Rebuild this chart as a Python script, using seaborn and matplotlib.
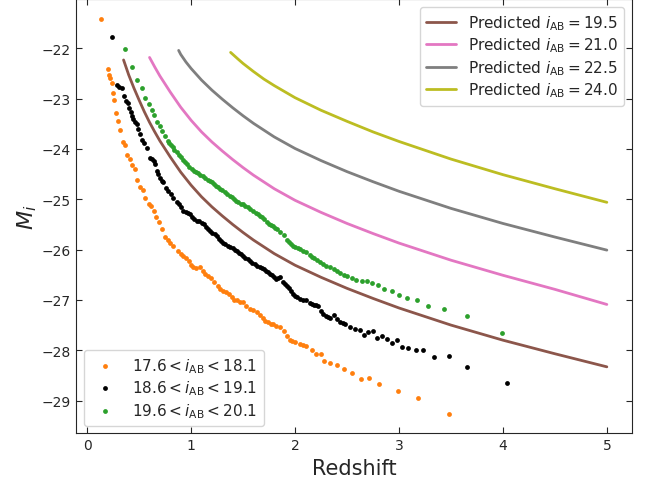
import matplotlib
matplotlib.use("Agg")
import matplotlib.pyplot as plt
import seaborn as sns

# Scatter bins: redshift and absolute magnitude M_i
orange_z = [0.135, 0.20, 0.21, 0.224, 0.237, 0.247, 0.26, 0.276, 0.295, 0.317, 0.34, 0.362, 0.385, 0.413,
            0.435, 0.46, 0.483, 0.51, 0.535, 0.558, 0.59, 0.61, 0.64, 0.66, 0.69, 0.72, 0.75, 0.78, 0.80,
            0.83, 0.87, 0.90, 0.926, 0.95, 0.975, 1.00, 1.02, 1.05, 1.087, 1.11, 1.135, 1.16, 1.19, 1.22,
            1.26, 1.28, 1.31, 1.34, 1.365, 1.39, 1.41, 1.44, 1.47, 1.50, 1.53, 1.57, 1.60, 1.63, 1.66,
            1.69, 1.71, 1.74, 1.77, 1.79, 1.82, 1.86, 1.89, 1.92, 1.95, 1.97, 2.00, 2.05, 2.08, 2.11,
            2.16, 2.20, 2.25, 2.28, 2.34, 2.40, 2.47, 2.545, 2.63, 2.71, 2.81, 2.99, 3.18, 3.48]
orange_m = [-21.42, -22.40, -22.52, -22.58, -22.69, -22.89, -23.03, -23.28, -23.45, -23.63, -23.87, -23.92,
            -24.12, -24.20, -24.32, -24.40, -24.61, -24.76, -24.82, -24.98, -25.10, -25.14, -25.23, -25.35,
            -25.45, -25.59, -25.74, -25.80, -25.86, -25.92, -26.02, -26.08, -26.12, -26.17, -26.22, -26.30,
            -26.35, -26.36, -26.35, -26.42, -26.48, -26.52, -26.57, -26.64, -26.72, -26.78, -26.83, -26.85,
            -26.88, -26.95, -27.01, -27.01, -27.04, -27.05, -27.12, -27.18, -27.20, -27.24, -27.30, -27.36,
            -27.41, -27.44, -27.47, -27.48, -27.52, -27.54, -27.62, -27.72, -27.80, -27.81, -27.84, -27.87,
            -27.90, -27.91, -27.99, -28.08, -28.08, -28.22, -28.25, -28.30, -28.38, -28.45, -28.57, -28.56,
            -28.67, -28.82, -28.94, -29.26]

black_z = [0.234, 0.288, 0.31, 0.333, 0.35, 0.37, 0.39, 0.40, 0.42, 0.43, 0.445, 0.46, 0.478, 0.487, 0.51,
           0.53, 0.55, 0.577, 0.606, 0.62, 0.64, 0.654, 0.67, 0.685, 0.70, 0.72, 0.73, 0.757, 0.78, 0.81,
           0.83, 0.86, 0.88, 0.90, 0.926, 0.95, 0.97, 0.99, 1.01, 1.03, 1.055, 1.08, 1.10, 1.12, 1.14, 1.16,
           1.18, 1.20, 1.23, 1.25, 1.27, 1.29, 1.31, 1.33, 1.355, 1.375, 1.40, 1.42, 1.44, 1.46, 1.48, 1.50,
           1.52, 1.545, 1.57, 1.59, 1.61, 1.63, 1.66, 1.68, 1.70, 1.72, 1.74, 1.76, 1.78, 1.80, 1.82, 1.84,
           1.86, 1.88, 1.90, 1.92, 1.94, 1.96, 1.98, 2.00, 2.02, 2.05, 2.08, 2.11, 2.14, 2.16, 2.18, 2.20,
           2.22, 2.25, 2.27, 2.30, 2.32, 2.34, 2.37, 2.40, 2.43, 2.46, 2.48, 2.53, 2.58, 2.625, 2.66, 2.70,
           2.75, 2.79, 2.84, 2.88, 2.93, 2.98, 3.03, 3.09, 3.16, 3.23, 3.34, 3.48, 3.65, 4.04]
black_m = [-21.77, -22.72, -22.76, -22.79, -22.95, -23.05, -23.08, -23.18, -23.26, -23.34, -23.40, -23.46,
           -23.51, -23.61, -23.71, -23.83, -23.89, -23.99, -24.17, -24.20, -24.24, -24.30, -24.43, -24.50,
           -24.57, -24.63, -24.66, -24.78, -24.83, -24.90, -24.98, -25.05, -25.10, -25.15, -25.23, -25.25,
           -25.28, -25.29, -25.36, -25.40, -25.43, -25.44, -25.48, -25.49, -25.55, -25.60, -25.63, -25.66,
           -25.69, -25.72, -25.78, -25.82, -25.86, -25.88, -25.92, -25.95, -25.97, -26.00, -26.02, -26.06,
           -26.09, -26.12, -26.16, -26.19, -26.22, -26.26, -26.29, -26.32, -26.35, -26.36, -26.38, -26.42,
           -26.45, -26.48, -26.51, -26.55, -26.58, -26.57, -26.55, -26.64, -26.68, -26.72, -26.76, -26.82,
           -26.88, -26.92, -26.95, -26.98, -27.01, -27.01, -27.06, -27.08, -27.10, -27.11, -27.13, -27.22,
           -27.28, -27.32, -27.34, -27.36, -27.30, -27.38, -27.43, -27.46, -27.48, -27.53, -27.58, -27.59,
           -27.69, -27.64, -27.62, -27.76, -27.72, -27.77, -27.85, -27.80, -27.93, -27.96, -27.99, -28.00,
           -28.14, -28.12, -28.34, -28.65]

green_z = [0.362, 0.43, 0.48, 0.53, 0.56, 0.59, 0.62, 0.647, 0.673, 0.70, 0.724, 0.75, 0.775, 0.79, 0.81,
           0.825, 0.84, 0.86, 0.88, 0.90, 0.92, 0.94, 0.96, 0.98, 1.007, 1.03, 1.05, 1.07, 1.09, 1.11,
           1.135, 1.16, 1.18, 1.20, 1.22, 1.24, 1.26, 1.28, 1.30, 1.33, 1.35, 1.37, 1.39, 1.41, 1.435,
           1.455, 1.48, 1.50, 1.52, 1.55, 1.57, 1.60, 1.62, 1.64, 1.66, 1.68, 1.70, 1.73, 1.75, 1.77, 1.79,
           1.81, 1.83, 1.86, 1.89, 1.92, 1.94, 1.96, 1.98, 2.00, 2.03, 2.05, 2.08, 2.11, 2.14, 2.16, 2.18,
           2.21, 2.24, 2.27, 2.30, 2.34, 2.37, 2.40, 2.43, 2.47, 2.50, 2.545, 2.59, 2.64, 2.69, 2.74,
           2.795, 2.86, 2.93, 3.00, 3.08, 3.17, 3.28, 3.43, 3.65, 3.99]
green_m = [-22.02, -22.38, -22.62, -22.79, -22.98, -23.11, -23.22, -23.32, -23.46, -23.55, -23.65, -23.74,
           -23.84, -23.88, -23.92, -23.97, -24.02, -24.06, -24.11, -24.16, -24.22, -24.26, -24.30, -24.35,
           -24.40, -24.43, -24.46, -24.48, -24.51, -24.54, -24.57, -24.61, -24.63, -24.66, -24.70, -24.73,
           -24.76, -24.80, -24.82, -24.85, -24.89, -24.93, -24.96, -25.00, -25.03, -25.06, -25.09, -25.10,
           -25.13, -25.16, -25.19, -25.23, -25.27, -25.30, -25.33, -25.36, -25.39, -25.45, -25.49, -25.52,
           -25.54, -25.57, -25.60, -25.64, -25.70, -25.80, -25.84, -25.88, -25.92, -25.95, -25.97, -25.99,
           -26.02, -26.05, -26.10, -26.14, -26.17, -26.20, -26.25, -26.28, -26.32, -26.35, -26.38, -26.42,
           -26.46, -26.50, -26.52, -26.56, -26.60, -26.63, -26.63, -26.66, -26.71, -26.78, -26.82, -26.90,
           -26.97, -27.00, -27.13, -27.19, -27.32, -27.65]

# Predicted tracks for fixed apparent magnitude
brown_z = [0.35, 0.375, 0.40, 0.45, 0.50, 0.55, 0.60, 0.65, 0.70, 0.75, 0.80, 0.90, 1.00, 1.10, 1.20, 1.30,
           1.40, 1.50, 1.60, 1.80, 2.00, 2.25, 2.50, 2.75, 3.00, 3.50, 4.00, 4.50, 5.00]
brown_m = [-22.23, -22.38, -22.53, -22.79, -23.03, -23.26, -23.47, -23.66, -23.84, -24.00, -24.16, -24.46,
           -24.72, -24.95, -25.15, -25.33, -25.50, -25.66, -25.81, -26.08, -26.31, -26.55, -26.77, -26.97,
           -27.16, -27.50, -27.80, -28.07, -28.33]
pink_z = [0.60, 0.65, 0.70, 0.75, 0.80, 0.90, 1.00, 1.10, 1.20, 1.30, 1.40, 1.50, 1.60, 1.80, 2.00, 2.25,
          2.50, 2.75, 3.00, 3.50, 4.00, 4.50, 5.00]
pink_m = [-22.18, -22.37, -22.55, -22.71, -22.87, -23.17, -23.43, -23.66, -23.86, -24.04, -24.21, -24.37,
          -24.52, -24.79, -25.02, -25.26, -25.48, -25.68, -25.87, -26.21, -26.51, -26.79, -27.09]
gray_z = [0.88, 0.90, 0.95, 1.00, 1.10, 1.20, 1.30, 1.40, 1.50, 1.60, 1.80, 2.00, 2.25, 2.50, 2.75, 3.00,
          3.50, 4.00, 4.50, 5.00]
gray_m = [-22.04, -22.12, -22.27, -22.40, -22.63, -22.83, -23.01, -23.18, -23.34, -23.49, -23.76, -23.99,
          -24.23, -24.45, -24.65, -24.84, -25.18, -25.48, -25.75, -26.01]
olive_z = [1.38, 1.45, 1.50, 1.60, 1.70, 1.80, 2.00, 2.25, 2.50, 2.75, 3.00, 3.50, 4.00, 4.50, 5.00]
olive_m = [-22.08, -22.21, -22.30, -22.46, -22.61, -22.74, -22.98, -23.23, -23.45, -23.66, -23.85, -24.20,
           -24.51, -24.79, -25.06]

bin_labels = [r'$17.6 < i_{\rm AB} < 18.1$', r'$18.6 < i_{\rm AB} < 19.1$', r'$19.6 < i_{\rm AB} < 20.1$']
pred_labels = [r'Predicted $i_{\rm AB} = 19.5$', r'Predicted $i_{\rm AB} = 21.0$',
               r'Predicted $i_{\rm AB} = 22.5$', r'Predicted $i_{\rm AB} = 24.0$']

sns.set_style('ticks')
plt.rcParams['font.family'] = ['DejaVu Sans']
plt.rcParams['mathtext.fontset'] = 'dejavusans'

fig, ax = plt.subplots(figsize=(6.49, 4.81), dpi=100)
fig.subplots_adjust(left=0.117, right=0.974, bottom=0.097, top=0.999)

pts = []
for z, m, c, lab in [(orange_z, orange_m, '#ff7f0e', bin_labels[0]),
                     (black_z, black_m, 'k', bin_labels[1]),
                     (green_z, green_m, '#2ca02c', bin_labels[2])]:
    sns.scatterplot(x=z, y=m, color=c, s=12, linewidth=0, label=lab, legend=False, ax=ax)
    pts.append(ax.collections[-1])

lines = []
for z, m, c, lab in [(brown_z, brown_m, '#8c564b', pred_labels[0]),
                     (pink_z, pink_m, '#e377c2', pred_labels[1]),
                     (gray_z, gray_m, '#7f7f7f', pred_labels[2]),
                     (olive_z, olive_m, '#bcbd22', pred_labels[3])]:
    sns.lineplot(x=z, y=m, color=c, lw=2, label=lab, legend=False, ax=ax)
    lines.append(ax.lines[-1])

ax.set_xlabel('Redshift', fontsize=15)
ax.set_ylabel(r'$M_i$', fontsize=16, labelpad=2)
ax.set_xticks([0, 1, 2, 3, 4, 5])
ax.tick_params(direction='in', top=True, right=True, labelsize=10, length=4)

leg1 = ax.legend(handles=lines, labels=pred_labels, loc='upper right', fontsize=11, labelspacing=0.25)
ax.add_artist(leg1)
ax.legend(handles=pts, labels=bin_labels, loc='lower left', fontsize=11, labelspacing=0.25)

fig.savefig('out.png', dpi=100)
